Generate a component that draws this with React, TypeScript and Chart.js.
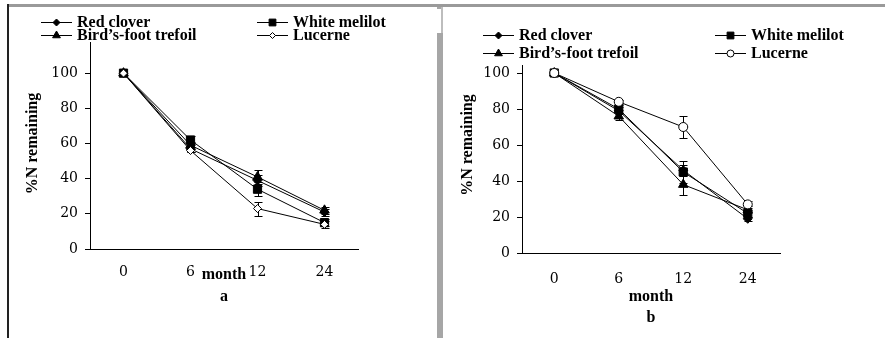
import React, { useEffect, useRef } from 'react';
import { Chart, registerables } from 'chart.js';

Chart.register(...registerables);

// ---------- data ----------
const months = ['0', '6', '12', '24'];
const seriesNames = ['Red clover', 'White melilot', 'Bird’s-foot trefoil', 'Lucerne'];
const yAxisTitle = '%N remaining';
const xAxisTitle = 'month';

// panel a
const redCloverA = [100, 57, 39, 21];
const whiteMelilotA = [100, 62, 34, 15];
const birdsFootA = [100, 59, 41, 22];
const lucerneA = [100, 56, 23, 14];
const redCloverErrA = [0, 2, 3, 2];
const whiteMelilotErrA = [0, 2, 4, 2];
const birdsFootErrA = [0, 2, 4, 2];
const lucerneErrA = [0, 1, 4, 2];

// panel b
const redCloverB = [100, 79, 46, 19];
const whiteMelilotB = [100, 80, 45, 22];
const birdsFootB = [100, 76, 38, 24];
const lucerneB = [100, 84, 70, 27];
const redCloverErrB = [0, 2, 3, 1];
const whiteMelilotErrB = [0, 2, 6, 2];
const birdsFootErrB = [0, 2, 6, 2];
const lucerneErrB = [0, 1, 6, 2];

// ---------- helpers ----------
function drawMarker(ctx: CanvasRenderingContext2D, style: string, r: number, x: number, y: number, fill: string) {
  ctx.beginPath();
  if (style === 'rectRot') {
    ctx.moveTo(x, y - r);
    ctx.lineTo(x + r, y);
    ctx.lineTo(x, y + r);
    ctx.lineTo(x - r, y);
    ctx.closePath();
  } else if (style === 'rect') {
    const s = r * Math.SQRT1_2;
    ctx.rect(x - s, y - s, 2 * s, 2 * s);
  } else if (style === 'triangle') {
    let rad = 0;
    ctx.moveTo(x + Math.sin(rad) * r, y - Math.cos(rad) * r);
    rad += (2 * Math.PI) / 3;
    ctx.lineTo(x + Math.sin(rad) * r, y - Math.cos(rad) * r);
    rad += (2 * Math.PI) / 3;
    ctx.lineTo(x + Math.sin(rad) * r, y - Math.cos(rad) * r);
    ctx.closePath();
  } else {
    ctx.arc(x, y, r, 0, Math.PI * 2);
  }
  ctx.fillStyle = fill;
  ctx.fill();
  ctx.strokeStyle = '#000';
  ctx.lineWidth = 1;
  ctx.stroke();
}

const errorBarPlugin = {
  id: 'errorBars',
  beforeDatasetsDraw(chart: any) {
    const ctx = chart.ctx as CanvasRenderingContext2D;
    const ys = chart.scales.y;
    ctx.save();
    ctx.strokeStyle = '#000';
    ctx.lineWidth = 1;
    chart.data.datasets.forEach((ds: any, i: number) => {
      const meta = chart.getDatasetMeta(i);
      const errs: number[] = ds.errors || [];
      meta.data.forEach((pt: any, j: number) => {
        const e = errs[j];
        if (!e) return;
        const v = ds.data[j];
        const top = Math.round(ys.getPixelForValue(v + e)) + 0.5;
        const bot = Math.round(ys.getPixelForValue(v - e)) + 0.5;
        const x = Math.round(pt.x) + 0.5;
        ctx.beginPath();
        ctx.moveTo(x, top);
        ctx.lineTo(x, bot);
        ctx.moveTo(x - 4, top);
        ctx.lineTo(x + 4, top);
        ctx.moveTo(x - 4, bot);
        ctx.lineTo(x + 4, bot);
        ctx.stroke();
      });
    });
    ctx.restore();
  },
};

type LegendLayout = { box: number[]; cols: number[]; rows: number[] };

function makeLegendPlugin(L: LegendLayout) {
  return {
    id: 'boxLegend',
    afterDraw(chart: any) {
      const ctx = chart.ctx as CanvasRenderingContext2D;
      ctx.save();
      ctx.fillStyle = '#fff';
      ctx.fillRect(L.box[0], L.box[1], L.box[2], L.box[3]);
      chart.data.datasets.forEach((ds: any, i: number) => {
        const x1 = L.cols[i % 2];
        const ly = L.rows[Math.floor(i / 2)];
        ctx.beginPath();
        ctx.strokeStyle = '#000';
        ctx.lineWidth = 1;
        ctx.moveTo(x1, ly + 0.5);
        ctx.lineTo(x1 + 31, ly + 0.5);
        ctx.stroke();
        drawMarker(ctx, ds.pointStyle, Math.max(3, ds.pointRadius - 1), x1 + 15.5, ly + 0.5, ds.pointBackgroundColor);
        ctx.fillStyle = '#000';
        ctx.font = 'bold 16px "Liberation Serif"';
        ctx.textBaseline = 'alphabetic';
        ctx.textAlign = 'left';
        ctx.fillText(ds.label, x1 + 36, ly + 5);
      });
      ctx.restore();
    },
  };
}

type Panel = {
  series: number[][];
  errors: number[][];
  lucerneStyle: string;
  letter: string;
  padTop: number;
  padRight: number;
  yW: number;
  xH: number;
  xTickPad: number;
  titleLH: number;
  titlePb: number;
  legend: LegendLayout;
};

function buildConfig(P: Panel): any {
  const styles = ['rectRot', 'rect', 'triangle', P.lucerneStyle];
  const radii = [4.5, 5.8, 5.5, P.lucerneStyle === 'circle' ? 4.5 : 4];
  const fills = ['#000', '#000', '#000', '#fff'];
  const datasets = seriesNames.map((name, i) => ({
    label: name,
    data: P.series[i],
    errors: P.errors[i],
    borderColor: '#000',
    borderWidth: 1,
    pointStyle: styles[i],
    pointRadius: radii[i],
    pointBackgroundColor: fills[i],
    pointBorderColor: '#000',
    pointBorderWidth: 1,
    fill: false,
    tension: 0,
    order: 4 - i,
  }));
  const tickFont = { family: '"DejaVu Serif"', size: 14 };
  return {
    type: 'line',
    data: { labels: months, datasets },
    options: {
      responsive: false,
      animation: false,
      devicePixelRatio: 1,
      layout: { padding: { top: P.padTop, right: P.padRight, left: 0, bottom: 0 } },
      plugins: { legend: { display: false }, tooltip: { enabled: false } },
      scales: {
        x: {
          type: 'category',
          offset: true,
          grid: { display: false },
          border: { display: true, color: '#000', width: 1 },
          ticks: { font: tickFont, color: '#000', padding: P.xTickPad, maxRotation: 0 },
          title: {
            display: true,
            text: [xAxisTitle, P.letter],
            color: '#000',
            font: { family: '"Liberation Serif"', weight: 'bold', size: 16, lineHeight: P.titleLH },
            padding: { top: 0, bottom: P.titlePb },
          },
          afterFit: (s: any) => {
            s.height = P.xH;
          },
        },
        y: {
          min: 0,
          max: 120,
          grid: { drawOnChartArea: false, drawTicks: true, tickLength: 5, color: '#000' },
          border: { display: true, color: '#000', width: 1 },
          ticks: { stepSize: 20, padding: 7, font: tickFont, color: '#000' },
          title: {
            display: true,
            text: yAxisTitle,
            color: '#000',
            font: { family: '"Liberation Serif"', weight: 'bold', size: 16, lineHeight: 1.2 },
            padding: { top: 15, bottom: 0 },
          },
          afterFit: (s: any) => {
            s.width = P.yW;
          },
        },
      },
    },
    plugins: [errorBarPlugin, makeLegendPlugin(P.legend)],
  };
}

const panelA: Panel = {
  series: [redCloverA, whiteMelilotA, birdsFootA, lucerneA],
  errors: [redCloverErrA, whiteMelilotErrA, birdsFootErrA, lucerneErrA],
  lucerneStyle: 'rectRot',
  letter: 'a',
  padTop: 38,
  padRight: 78,
  yW: 82,
  xH: 89,
  xTickPad: 7,
  titleLH: 1.375,
  titlePb: 30,
  legend: { box: [25, 9, 390, 33], cols: [33, 249], rows: [22, 35] },
};

const panelB: Panel = {
  series: [redCloverB, whiteMelilotB, birdsFootB, lucerneB],
  errors: [redCloverErrB, whiteMelilotErrB, birdsFootErrB, lucerneErrB],
  lucerneStyle: 'circle',
  letter: 'b',
  padTop: 37,
  padRight: 105,
  yW: 79,
  xH: 85,
  xTickPad: 10,
  titleLH: 1.3125,
  titlePb: 9.5,
  legend: { box: [30, 20, 400, 45], cols: [40, 272], rows: [35, 53] },
};

function ChartCanvas({ panel, left, width }: { panel: Panel; left: number; width: number }) {
  const ref = useRef<HTMLCanvasElement | null>(null);
  useEffect(() => {
    if (!ref.current) return;
    const chart = new Chart(ref.current, buildConfig(panel));
    return () => chart.destroy();
  }, [panel]);
  return (
    <canvas
      ref={ref}
      width={width}
      height={338}
      style={{ position: 'absolute', left, top: 0, width, height: 338 }}
    />
  );
}

export default function App() {
  return (
    <div
      style={{
        position: 'fixed',
        left: 0,
        top: 0,
        width: 885,
        height: 338,
        background: '#fff',
        overflow: 'hidden',
      }}
    >
      <div style={{ position: 'absolute', left: 7, top: 4, width: 878, height: 3, background: '#9a9a9a' }} />
      <div style={{ position: 'absolute', left: 7, top: 4, width: 1.5, height: 334, background: '#222' }} />
      <div style={{ position: 'absolute', left: 437, top: 7, width: 6, height: 2, background: '#a6a6a6' }} />
      <div style={{ position: 'absolute', left: 441, top: 7, width: 2, height: 27, background: '#bdbdbd' }} />
      <div style={{ position: 'absolute', left: 437, top: 33, width: 6, height: 305, background: '#a6a6a6' }} />
      <ChartCanvas panel={panelA} left={8} width={428} />
      <ChartCanvas panel={panelB} left={443} width={442} />
    </div>
  );
}
